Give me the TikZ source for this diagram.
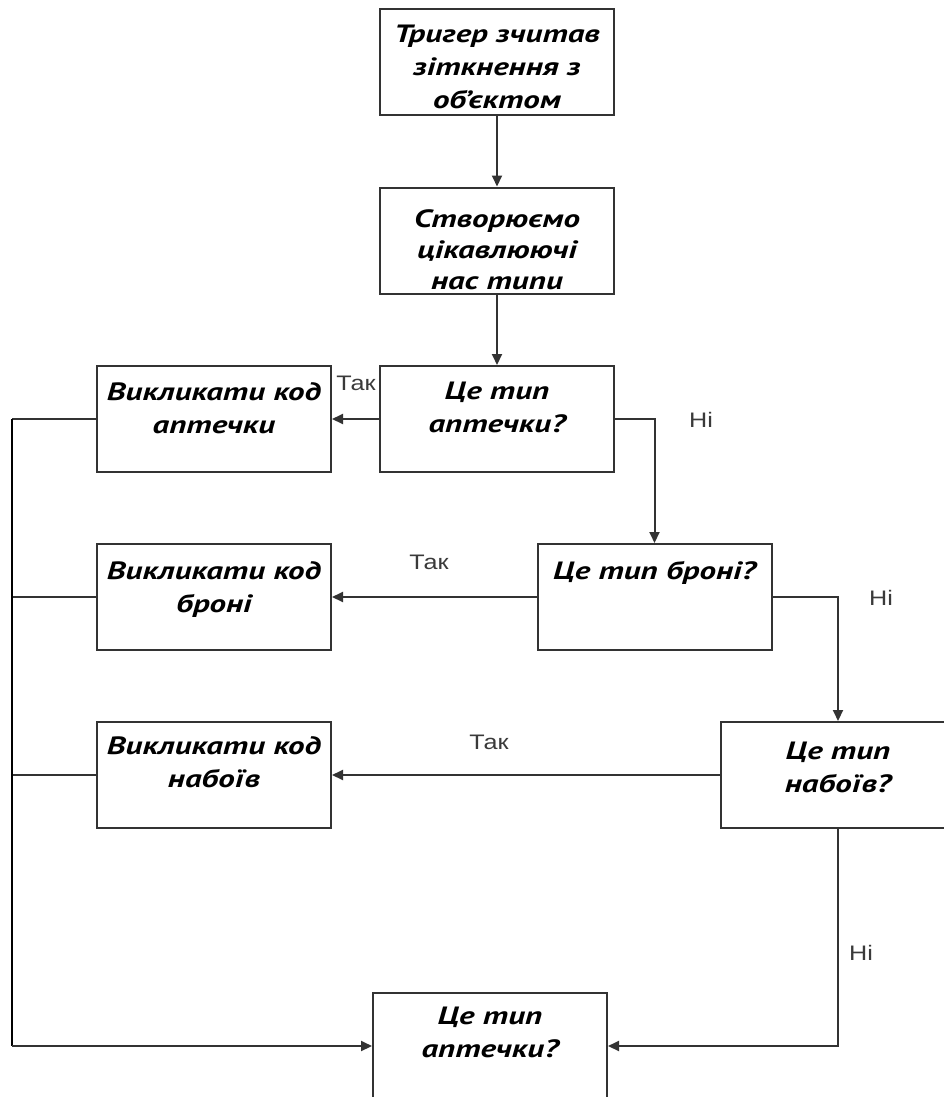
\documentclass[tikz,border=0pt]{standalone}
\usepackage{fontspec}
\setmainfont{Liberation Sans}
\newfontfamily\boxfont[FakeStretch=1.32]{PT Sans}
\newfontfamily\answerfont[FakeStretch=1.2]{Liberation Sans}
\usetikzlibrary{arrows.meta}
\definecolor{linegray}{HTML}{333333}
\definecolor{labelgray}{HTML}{3A3A3A}

\begin{document}
\begin{tikzpicture}[x=1pt,y=1pt,
  box/.style={draw=linegray, line width=2pt, minimum width=234pt, minimum height=106pt, inner sep=0pt},
  boxtext/.style={anchor=north, inner sep=0pt, align=center,
    font=\boxfont\bfseries\itshape\fontsize{25}{33}\selectfont},
  flow/.style={draw=linegray, line width=2pt, -{Triangle[length=11pt,width=10pt]}},
  wire/.style={draw=linegray, line width=2pt},
  answer/.style={font=\answerfont\fontsize{21}{24}\selectfont, text=labelgray, inner sep=0pt}]

\clip (0,0) rectangle (944,-1097);

% process and decision boxes
\node[box] (b1) at (497,-62.5) {};
\node[box] (b2) at (497,-240.5) {};
\node[box] (q1) at (497,-419) {};
\node[box] (a1) at (214,-419) {};
\node[box] (q2) at (654.5,-597) {};
\node[box] (a2) at (214,-597) {};
\node[box] (q3) at (838,-775) {};
\node[box] (a3) at (214,-775) {};
\node[box] (q4) at (490,-1046) {};

% box captions, set near the top edge
\node[boxtext] (t1) at ([yshift=-16]b1.north) {Тригер зчитав\\зіткнення з\\об’єктом};
\node[boxtext, font=\boxfont\bfseries\itshape\fontsize{25}{31}\selectfont] (t2) at ([yshift=-23]b2.north) {Створюємо\\цікавлюючі\\нас типи};
\node[boxtext] (tq1) at ([yshift=-17]q1.north) {Це тип\\аптечки?};
\node[boxtext] (ta1) at ([yshift=-17]a1.north) {Викликати код\\аптечки};
\node[boxtext] (tq2) at ([yshift=-18]q2.north) {Це тип броні?};
\node[boxtext] (ta2) at ([yshift=-18]a2.north) {Викликати код\\броні};
\node[boxtext] (tq3) at ([yshift=-21]q3.north) {Це тип\\набоїв?};
\node[boxtext] (ta3) at ([yshift=-15]a3.north) {Викликати код\\набоїв};
\node[boxtext] (tq4) at ([yshift=-15]q4.north) {Це тип\\аптечки?};

% main flow
\draw[flow] (b1) -- (b2);
\draw[flow] (b2) -- (q1);
\draw[flow] (q1) -- (a1);
\draw[flow] (q1.east) -| (q2.north);
\draw[flow] (q2) -- (a2);
\draw[flow] (q2.east) -| (q3.north);
\draw[flow] (q3) -- (a3);
\draw[flow] (q3.south) |- (q4.east);

% collecting line on the left
\coordinate (bustop) at (12,-419);
\coordinate (busbot) at (bustop |- q4.west);
\draw[wire] (a1.west) -- (bustop);
\draw[wire] (a2.west) -- (a2.west -| bustop);
\draw[wire] (a3.west) -- (a3.west -| bustop);
\draw[wire, line width=2.8pt, draw=black] (bustop) -- (busbot);
\draw[flow] (busbot) -- (q4.west);

% branch answers
\node[answer] (yes1) at (356,-383) {Так};
\node[answer] (no1) at (701,-420) {Ні};
\node[answer] (yes2) at (429,-562) {Так};
\node[answer] (no2) at (881,-598) {Ні};
\node[answer] (yes3) at (489,-742) {Так};
\node[answer] (no3) at (861,-953) {Ні};
\end{tikzpicture}
\end{document}
